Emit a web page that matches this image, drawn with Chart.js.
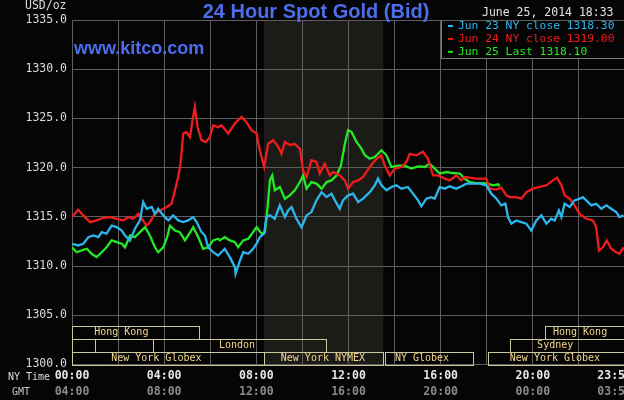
<!DOCTYPE html>
<html>
<head>
<meta charset="utf-8">
<script src="https://cdn.jsdelivr.net/npm/chart.js@4/dist/chart.umd.min.js"></script>
<style>
html, body { margin: 0; padding: 0; background: #050505; overflow: hidden; }
canvas { display: block; }
</style>
</head>
<body>
<canvas id="goldChartId" width="700" height="400"></canvas>
<script>
// hours after NY midnight, prices in USD/oz
const jun23Hours = [0,0.27,0.49,0.71,0.92,1.14,1.29,1.5,1.72,1.94,2.16,2.3,2.52,2.73,2.95,3.09,3.24,3.46,3.6,3.74,3.96,4.18,4.39,4.61,4.83,5.04,5.26,5.41,5.62,5.77,5.91,6.13,6.34,6.63,6.85,7.07,7.1,7.29,7.43,7.65,7.86,8.01,8.15,8.34,8.44,8.59,8.8,9.02,9.24,9.38,9.53,9.74,9.96,10.18,10.39,10.61,10.83,11.05,11.26,11.41,11.62,11.76,11.98,12.2,12.42,12.63,12.92,13.14,13.28,13.43,13.65,13.86,14.08,14.3,14.58,14.8,15.02,15.16,15.38,15.6,15.74,15.96,16.18,16.39,16.68,16.9,17.12,17.4,17.69,17.98,18.2,18.42,18.63,18.81,18.92,19.07,19.28,19.5,19.72,19.93,20.15,20.37,20.59,20.8,20.95,21.13,21.24,21.38,21.6,21.81,22.03,22.17,22.32,22.54,22.75,22.97,23.19,23.4,23.62,23.76,23.94];
const jun23Values = [1312.26,1312.09,1312.26,1312.93,1313.1,1312.93,1313.44,1313.28,1314.1,1313.95,1313.6,1313.1,1312.6,1313.79,1314.63,1316.5,1315.82,1316.0,1315.3,1315.82,1315.14,1314.63,1315.14,1314.63,1314.46,1314.63,1314.97,1314.46,1313.44,1313.1,1311.9,1311.4,1311.07,1311.75,1310.9,1309.88,1309.2,1310.56,1311.4,1311.24,1311.75,1312.26,1312.93,1313.28,1314.97,1315.14,1314.8,1316.16,1314.97,1315.65,1316.0,1314.8,1313.95,1315.14,1315.48,1316.67,1317.5,1317.0,1317.35,1316.67,1315.82,1316.67,1317.18,1317.35,1316.5,1316.84,1317.5,1318.2,1318.88,1318.2,1317.7,1318.03,1318.2,1317.86,1318.03,1317.35,1316.67,1316.06,1316.84,1317.0,1316.84,1318.03,1317.86,1318.1,1317.86,1318.1,1318.37,1318.37,1318.37,1318.2,1317.35,1316.84,1316.16,1316.33,1314.97,1314.3,1314.63,1314.46,1314.3,1313.6,1314.63,1315.14,1314.3,1314.8,1314.63,1315.65,1314.97,1316.33,1316.0,1316.67,1316.84,1317.0,1316.67,1316.16,1316.33,1315.82,1316.16,1315.82,1315.48,1314.97,1315.14];

const jun24Hours = [0,0.27,0.49,0.78,1.07,1.36,1.65,1.94,2.22,2.44,2.66,2.88,3.24,3.38,3.6,3.82,4.11,4.32,4.47,4.61,4.71,4.83,4.97,5.12,5.23,5.33,5.45,5.62,5.81,5.98,6.13,6.34,6.49,6.78,7.07,7.36,7.58,7.79,8.01,8.15,8.34,8.51,8.73,8.95,9.09,9.24,9.45,9.67,9.89,10.03,10.18,10.39,10.61,10.75,10.97,11.19,11.33,11.62,11.84,11.98,12.2,12.42,12.63,12.92,13.21,13.43,13.57,13.79,14.01,14.3,14.51,14.66,14.95,15.23,15.45,15.67,15.88,16.18,16.39,16.68,16.9,17.04,17.26,17.55,17.98,18.13,18.42,18.63,18.85,18.99,19.28,19.5,19.72,20.0,20.29,20.59,20.87,21.05,21.24,21.38,21.6,21.81,22.03,22.32,22.61,22.75,22.87,23.04,23.21,23.4,23.62,23.76,23.94];
const jun24Values = [1314.97,1315.72,1315.14,1314.46,1314.63,1314.9,1314.97,1314.8,1314.63,1314.97,1314.8,1315.3,1314.1,1314.46,1315.3,1315.65,1315.99,1316.33,1317.7,1319.04,1320.4,1323.46,1323.6,1323.1,1324.8,1326.17,1324.1,1322.8,1322.6,1323.1,1324.3,1324.1,1324.3,1323.46,1324.5,1325.15,1324.6,1323.8,1323.46,1321.76,1320.06,1322.4,1322.8,1322.1,1321.4,1322.6,1322.3,1322.4,1321.9,1319.7,1319.04,1320.74,1320.57,1319.4,1320.4,1319.2,1319.55,1319.2,1318.7,1317.86,1318.53,1318.7,1319.04,1320.06,1320.9,1321.25,1320.2,1319.2,1319.9,1320.06,1320.57,1321.4,1321.25,1321.6,1320.9,1319.2,1319.2,1318.88,1318.7,1319.2,1318.7,1319.04,1318.97,1318.88,1318.88,1317.86,1317.76,1317.96,1317.18,1317.0,1317.0,1316.84,1317.5,1317.86,1318.03,1318.2,1318.7,1318.97,1318.2,1317.18,1316.84,1316.16,1315.3,1314.8,1314.63,1313.95,1311.58,1311.9,1312.6,1311.75,1311.4,1311.24,1311.9];

const jun25Hours = [0,0.2,0.42,0.64,0.85,1.07,1.29,1.5,1.72,1.94,2.16,2.3,2.52,2.73,2.95,3.17,3.38,3.6,3.74,3.96,4.13,4.25,4.47,4.68,4.9,5.09,5.26,5.48,5.69,5.91,6.13,6.34,6.42,6.63,6.85,7.07,7.21,7.43,7.65,7.86,8.01,8.23,8.37,8.49,8.59,8.69,8.8,9.02,9.24,9.45,9.67,9.89,10.03,10.18,10.39,10.61,10.83,11.05,11.26,11.48,11.67,11.84,11.98,12.13,12.35,12.56,12.71,12.92,13.14,13.43,13.65,13.86,14.15,14.44,14.73,15.02,15.31,15.52,15.74,15.96,16.25,16.53,16.83,17.04,17.26,17.55,17.84,18.05,18.27,18.49,18.56];
const jun25Values = [1311.9,1311.4,1311.58,1311.75,1311.24,1310.9,1311.4,1311.9,1312.6,1312.42,1312.26,1311.9,1313.1,1312.93,1313.44,1313.95,1313.1,1311.9,1311.4,1311.9,1312.93,1314.1,1313.6,1313.44,1312.6,1313.28,1313.95,1312.93,1311.75,1311.9,1312.6,1312.77,1312.6,1312.93,1312.6,1312.42,1311.9,1312.6,1312.77,1313.44,1313.95,1313.28,1313.44,1316.0,1318.7,1319.2,1317.7,1318.03,1316.84,1317.18,1317.7,1318.53,1319.2,1317.86,1318.53,1318.37,1317.86,1318.53,1318.7,1319.2,1320.2,1322.4,1323.8,1323.63,1322.6,1321.93,1321.25,1320.9,1321.08,1321.76,1321.25,1320.06,1320.2,1320.2,1319.9,1320.13,1320.06,1320.4,1319.9,1319.4,1319.55,1319.45,1319.4,1318.88,1318.53,1318.43,1318.43,1318.37,1318.2,1318.3,1318.1];

const seriesLabels = ['Jun 23 NY close 1318.30', 'Jun 24 NY close 1319.00', 'Jun 25 Last 1318.10'];
const seriesColors = ['#2cb6ec', '#ee1c1c', '#25e825'];

// axis ticks
const gridHours = [0, 2, 4, 6, 8, 10, 12, 14, 16, 18, 20, 22];
const labelHours = [0, 4, 8, 12, 16, 20, 23.55];
const nyTimeLabels = ['00:00', '04:00', '08:00', '12:00', '16:00', '20:00', '23:55'];
const gmtLabels = ['04:00', '08:00', '12:00', '16:00', '20:00', '00:00', '03:55'];

// NYMEX open hours (shaded) and market sessions along the bottom
const nymexHours = [8.33, 13.51];
const sessionNames = ['Hong Kong', 'Hong Kong', '', '', 'London', 'Sydney', 'New York Globex', 'New York NYMEX', 'NY Globex', 'New York Globex'];
const sessionStarts = [0, 20.54, 0, 1.0, 3.53, 19.01, 0, 8.33, 13.58, 18.07];
const sessionEnds = [5.52, 24, 1.0, 3.53, 11.01, 24, 8.33, 13.51, 17.4, 24];
const sessionRows = [0, 0, 1, 1, 1, 1, 2, 2, 2, 2];
const sessionLabelAt = [2.14, 22.05, 0, 0, 7.16, 20.97, 3.66, 10.89, 15.19, 20.96];

const MONO = '"DejaVu Sans Mono", monospace';

const kitcoDecor = {
    id: 'kitcoDecor',
    beforeDraw(chart) {
        const { ctx, chartArea: a, scales: { x } } = chart;
        ctx.save();
        ctx.fillStyle = '#050505';
        ctx.fillRect(0, 0, chart.width, chart.height);
        const s = x.getPixelForValue(nymexHours[0]);
        const e = x.getPixelForValue(nymexHours[1]);
        ctx.fillStyle = '#1b1b18';
        ctx.fillRect(s, a.top, e - s, a.bottom - a.top);
        ctx.restore();
    },
    afterDraw(chart) {
        const { ctx, chartArea: a, scales: { x, y } } = chart;
        ctx.save();

        // session boxes
        const rowH = 12.7;
        const base = y.getPixelForValue(1300);
        ctx.strokeStyle = '#cdc89c';
        ctx.lineWidth = 1;
        ctx.font = '10px ' + MONO;
        ctx.fillStyle = '#f3d68c';
        ctx.textAlign = 'center';
        ctx.textBaseline = 'middle';
        sessionNames.forEach((name, i) => {
            const top = Math.round(base - (3 - sessionRows[i]) * rowH) + 0.5;
            const x1 = Math.round(x.getPixelForValue(sessionStarts[i])) + 0.5;
            const x2 = Math.round(x.getPixelForValue(sessionEnds[i])) + 0.5;
            ctx.strokeRect(x1, top, x2 - x1, Math.round(rowH));
            if (name) {
                ctx.fillText(name, x.getPixelForValue(sessionLabelAt[i]), top + rowH / 2);
            }
        });

        // titles
        ctx.fillStyle = '#4d6ded';
        ctx.textAlign = 'center';
        ctx.textBaseline = 'alphabetic';
        ctx.font = 'bold 20px "Liberation Sans", Arial, sans-serif';
        ctx.fillText('24 Hour Spot Gold (Bid)', 316, 18);
        ctx.textAlign = 'left';
        ctx.font = 'bold 18px "Liberation Sans", Arial, sans-serif';
        ctx.fillText('www.kitco.com', 74, 54);

        ctx.font = '11.5px ' + MONO;
        ctx.textBaseline = 'middle';
        ctx.fillStyle = '#e2e2e2';
        ctx.fillText('June 25, 2014 18:33', 482, 13);
        ctx.fillStyle = '#dcdcdc';
        ctx.fillText('USD/oz', 25, 6);

        ctx.font = '10px ' + MONO;
        ctx.fillText('NY Time', 8, 377);
        ctx.fillStyle = '#c8c8c8';
        ctx.fillText('GMT', 12, 392);

        // legend box
        ctx.fillStyle = '#050505';
        ctx.fillRect(442, a.top + 1, a.right - 442, 37);
        ctx.strokeStyle = '#7a7a7a';
        ctx.beginPath();
        ctx.moveTo(441.5, a.top);
        ctx.lineTo(441.5, 58.5);
        ctx.lineTo(a.right, 58.5);
        ctx.stroke();
        ctx.font = '11.3px ' + MONO;
        seriesLabels.forEach((label, i) => {
            const ly = 26 + i * 12.9;
            ctx.fillStyle = seriesColors[i];
            ctx.fillRect(448, ly - 1, 5, 2);
            ctx.fillText(label, 458, ly);
        });
        ctx.restore();
    }
};

const ctx = document.getElementById('goldChartId').getContext('2d');

function toPoints(hours, values) {
    return hours.map((h, i) => ({ x: h, y: values[i] }));
}

function hourTicks(scale, hours) {
    scale.ticks = hours.map(h => ({ value: h }));
}

const goldChart = new Chart(ctx, {
    type: 'line',
    data: {
        datasets: [
            { label: seriesLabels[0], data: toPoints(jun23Hours, jun23Values), borderColor: seriesColors[0] },
            { label: seriesLabels[1], data: toPoints(jun24Hours, jun24Values), borderColor: seriesColors[1] },
            { label: seriesLabels[2], data: toPoints(jun25Hours, jun25Values), borderColor: seriesColors[2] }
        ]
    },
    options: {
        responsive: false,
        animation: false,
        datasets: {
            line: { borderWidth: 2.3, pointRadius: 0, tension: 0, fill: false }
        },
        layout: { padding: { top: 20, right: 75, left: 0, bottom: 0 } },
        plugins: {
            legend: { display: false },
            tooltip: { enabled: false }
        },
        scales: {
            x: {
                type: 'linear',
                position: 'bottom',
                weight: 0,
                min: 0,
                max: 24,
                afterBuildTicks: s => hourTicks(s, gridHours.concat([23.55])),
                afterFit: s => { s.height = 16; },
                grid: {
                    drawTicks: false,
                    color: c => (gridHours.includes(c.tick.value) ? '#5e5e5e' : 'rgba(0,0,0,0)')
                },
                border: { display: false },
                ticks: {
                    autoSkip: false,
                    maxRotation: 0,
                    padding: 5,
                    color: '#e6e6e6',
                    font: { family: MONO, size: 11.5, weight: 'bold' },
                    callback: v => {
                        const i = labelHours.indexOf(v);
                        return i >= 0 ? nyTimeLabels[i] : '';
                    }
                }
            },
            x2: {
                type: 'linear',
                position: 'bottom',
                weight: 1,
                min: 0,
                max: 24,
                afterBuildTicks: s => hourTicks(s, labelHours),
                afterFit: s => { s.height = 19.6; },
                grid: { display: false, drawTicks: false },
                border: { display: false },
                ticks: {
                    autoSkip: false,
                    maxRotation: 0,
                    padding: 5,
                    color: '#8a8a8a',
                    font: { family: MONO, size: 11.5, weight: 'bold' },
                    callback: v => {
                        const i = labelHours.indexOf(v);
                        return i >= 0 ? gmtLabels[i] : '';
                    }
                }
            },
            y: {
                min: 1300,
                max: 1335,
                afterFit: s => { s.width = 72; },
                grid: { drawTicks: false, color: '#5e5e5e' },
                border: { display: false },
                ticks: {
                    stepSize: 5,
                    padding: 5,
                    color: '#dcdcdc',
                    font: { family: MONO, size: 11.5 },
                    callback: v => v.toFixed(1)
                }
            }
        }
    },
    plugins: [kitcoDecor]
});
</script>
</body>
</html>
